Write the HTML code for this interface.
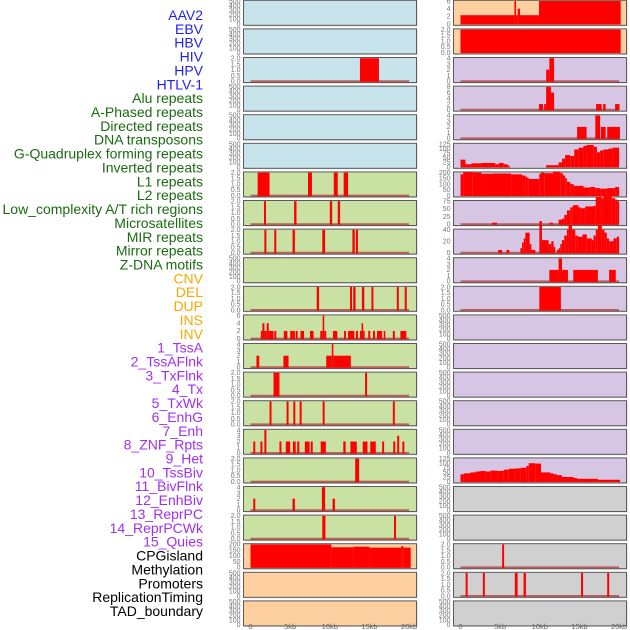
<!DOCTYPE html>
<html><head><meta charset="utf-8"><style>
html,body{margin:0;padding:0;background:#fff;}
svg{display:block;font-family:"Liberation Sans",sans-serif;}
</style></head><body>
<svg id="chart" width="630" height="630" viewBox="0 0 630 630" xmlns="http://www.w3.org/2000/svg"></svg>
<script>
const NS="http://www.w3.org/2000/svg";
const labels=["AAV2","EBV","HBV","HIV","HPV","HTLV-1","Alu repeats","A-Phased repeats","Directed repeats","DNA transposons","G-Quadruplex forming repeats","Inverted repeats","L1 repeats","L2 repeats","Low_complexity A/T rich regions","Microsatellites","MIR repeats","Mirror repeats","Z-DNA motifs","CNV","DEL","DUP","INS","INV","1_TssA","2_TssAFlnk","3_TxFlnk","4_Tx","5_TxWk","6_EnhG","7_Enh","8_ZNF_Rpts","9_Het","10_TssBiv","11_BivFlnk","12_EnhBiv","13_ReprPC","14_ReprPCWk","15_Quies","CPGisland","Methylation","Promoters","ReplicationTiming","TAD_boundary"];
const labelGroups=["v","v","v","v","v","v","r","r","r","r","r","r","r","r","r","r","r","r","r","s","s","s","s","s","h","h","h","h","h","h","h","h","h","h","h","h","h","h","h","o","o","o","o","o"];
const xTicks=[0,5,10,15,20];
const xTickLabels=["0","5kb","10kb","15kb","20kb"];
// each panel: bg, yMax, ticks, baseline, segments [startKb,endKb,value]
const leftBg=["b","b","b","b","b","b","g","g","g","g","g","g","g","g","g","g","g","g","g","o","o","o"];
const rightBg=["o","o","p","p","p","p","p","p","p","p","p","p","p","p","p","p","p","x","x","x","x","x"];
const leftMax=[500,500,2,500,500,500,2,2,2,500,2,6,4,2,2,4,2,4,2,200,500,500];
const rightMax=[6,2,4,8,4,125,200,75,40,4,2,500,500,500,500,500,125,500,500,2,2,500];
const leftBase=[0,0,1,0,0,0,1,1,1,0,1,1,1,1,1,1,1,1,1,0,0,0];
const rightBase=[0,0,1,1,1,0,0,1,1,1,1,0,0,0,0,0,0,0,0,1,1,0];
const leftSeg=[
[],[],[[13.8,16.2,2]],[],[],[],
[[0.9,2.4,2],[7.25,7.75,2],[10.5,11.0,2],[11.75,12.3,2]],
[[1.7,1.95,2],[5.5,5.8,2],[10.0,10.3,2],[11.0,11.3,2]],
[[1.75,2.0,2],[3.0,3.25,2],[5.3,5.6,2],[9.05,9.4,2],[12.85,13.15,2],[13.3,13.55,2]],
[],
[[8.35,8.65,2],[12.55,12.8,2],[12.95,13.25,2],[14.05,14.35,2],[15.25,15.5,2],[18.45,18.7,2],[19.45,19.7,2]],
[[1.3,1.5,2],[1.5,1.75,4],[1.75,2.05,2],[2.05,2.3,4],[2.3,2.9,2],[3.0,3.25,2],[4.2,4.65,2],[5.0,5.35,2],[5.35,5.6,2],[5.7,5.95,2],[6.3,6.75,2],[7.5,7.95,2],[8.8,9.1,2],[9.1,9.3,6],[9.3,9.55,2],[10.4,10.95,2],[11.8,12.05,2],[12.3,13.1,2],[13.3,13.55,2],[13.8,14.0,2],[14.0,14.2,4],[14.2,14.4,2],[14.85,15.1,2],[15.45,15.7,2],[15.95,16.6,2],[16.8,17.0,2],[17.95,18.2,2],[18.9,19.65,2]],
[[0.75,1.1,2],[4.15,4.8,2],[9.55,10.25,2],[10.25,10.45,4],[10.45,12.65,2]],
[[2.9,3.65,2],[14.45,14.7,2]],
[[2.4,2.65,2],[4.55,4.8,2],[5.4,5.65,2],[6.2,6.45,2],[9.1,9.35,2],[17.95,18.2,2]],
[[0.35,0.6,2],[1.25,1.5,2],[1.75,2.0,4],[3.65,3.9,2],[4.45,5.0,2],[5.35,5.7,2],[5.9,6.15,2],[6.85,7.45,2],[7.6,7.85,2],[8.85,9.5,2],[11.7,12.0,2],[12.6,13.4,2],[14.15,14.75,2],[15.1,15.8,2],[16.6,16.85,2],[18.0,18.25,2],[18.5,18.75,3],[19.15,19.4,2]],
[[13.2,13.7,2]],
[[0.35,0.6,2],[5.3,5.6,2],[9.0,9.4,4],[10.35,10.65,2]],
[[9.05,9.45,2],[18.1,18.35,2]],
[[0,10.2,200],[10.2,13.0,175],[13.0,15.0,180],[15.0,19.0,172],[19.0,19.25,185],[19.25,20.2,172]],
[],[]
];
const rightSeg=[
[[0,6.8,2.3],[6.8,7.0,6],[7.0,7.2,2.3],[7.2,7.5,4],[7.5,9.9,2.3],[9.9,20.2,6]],
[[0,20.2,2]],
[[10.8,11.2,2],[11.2,11.8,4]],
[[9.9,10.4,2],[10.55,10.8,2],[10.8,11.4,8],[11.4,11.8,6],[17.1,17.8,2],[18.0,18.3,2],[19.5,20.05,2]],
[[14.7,15.9,2],[17.0,17.6,4],[17.7,18.3,2],[18.5,20.1,2]],
[[0,0.63,40],[0.63,1.38,15],[1.38,2.64,20],[2.64,4.4,22],[4.4,4.82,15],[4.82,5.45,22],[5.45,5.95,15],[5.95,6.2,8],[10.8,12.37,10],[12.37,12.8,25],[12.8,13.2,45],[13.2,13.84,65],[13.84,14.34,60],[14.34,14.9,95],[14.9,15.5,105],[15.5,15.9,115],[15.9,16.8,120],[16.8,17.2,110],[17.2,17.6,80],[17.6,18.0,90],[18.0,18.66,95],[18.66,19.16,100],[19.16,20.0,105]],
[[0,0.34,185],[0.34,1.55,205],[1.55,2.64,200],[2.64,4.1,190],[4.1,6.38,192],[6.38,7.76,185],[7.76,8.18,175],[8.18,8.39,165],[8.39,8.6,155],[8.6,9.94,145],[9.94,10.15,190],[10.15,10.57,200],[10.57,11.66,195],[11.66,12.58,210],[12.58,12.92,195],[12.92,13.2,175],[13.2,13.42,150],[13.42,13.84,120],[13.84,14.26,100],[14.26,15.51,85],[15.51,16.35,70],[16.35,16.98,75],[16.98,17.61,65],[17.61,18.45,60],[18.45,19.5,65],[19.5,20.0,75]],
[[4.0,4.6,5],[11.2,11.65,5],[12.37,12.8,15],[12.8,13.08,18],[13.08,13.42,30],[13.42,13.84,45],[13.84,14.17,55],[14.17,14.88,62],[14.88,15.18,55],[15.18,15.72,52],[15.72,16.77,58],[16.77,17.06,60],[17.06,17.82,90],[17.82,18.03,85],[18.03,18.66,95],[18.66,19.08,92],[19.08,19.5,85],[19.5,19.79,80],[19.79,20.0,75]],
[[4.75,5.25,5],[5.8,6.15,5],[7.55,7.76,8],[7.76,7.97,18],[7.97,8.18,25],[8.18,8.72,35],[8.72,8.94,15],[8.94,9.43,5],[9.94,10.27,55],[10.27,11.11,22],[11.11,11.45,15],[11.45,11.74,20],[11.74,11.95,10],[12.16,12.37,5],[12.37,12.58,8],[12.58,12.79,15],[12.79,13.08,22],[13.08,13.42,30],[13.42,13.63,40],[13.63,14.05,48],[14.05,14.47,40],[14.47,14.8,30],[14.8,15.39,28],[15.39,15.93,32],[15.93,16.56,25],[16.56,16.77,22],[16.77,17.06,30],[17.06,17.32,40],[17.32,17.82,48],[17.82,18.15,40],[18.15,18.45,35],[18.45,18.74,25],[18.74,19.29,20],[19.29,19.71,25],[19.71,20.0,28]],
[[11.2,12.37,2],[12.37,12.8,4],[12.8,13.55,2],[14.22,17.32,2],[18.74,19.58,2]],
[[9.94,12.66,2]],
[],[],[],[],[],
[[0,0.42,40],[0.42,1.26,45],[1.26,1.89,50],[1.89,2.52,55],[2.52,3.14,58],[3.14,3.77,55],[3.77,4.61,60],[4.61,5.45,58],[5.45,6.08,65],[6.08,6.92,70],[6.92,7.55,72],[7.55,8.3,75],[8.3,8.6,85],[8.6,9.43,100],[9.43,10.15,98],[10.15,11.32,50],[11.32,11.74,45],[11.74,12.16,40],[12.16,12.79,35],[12.79,14.26,25],[14.26,14.68,20],[14.68,17.32,15],[17.32,20.13,10]],
[],[],
[[5.25,5.5,2]],
[[0.65,0.9,2],[2.82,3.07,2],[6.85,7.2,2],[7.95,8.25,2],[15.2,15.45,2],[18.5,18.75,2]],
[]
];
const tickSets={500:[0,100,200,300,400,500],2:[0,0.5,1,1.5,2],6:[0,2,4,6],4:[0,1,2,3,4],8:[0,2,4,6,8],200:[0,50,100,150,200],125:[0,25,50,75,100,125],75:[0,25,50,75],40:[0,20,40]};
const bgColor={b:"#c7e3eb",g:"#c9e1a2",o:"#ffd09f",p:"#d7c6e3",x:"#d0d0d0"};
const groupColor={v:"#1f1fef",r:"#1a6b10",s:"#ffa500",h:"#a030f0",o:"#000"};
const svg=document.getElementById("chart");
function el(tag,attrs,parent){const e=document.createElementNS(NS,tag);for(const k in attrs)e.setAttribute(k,attrs[k]);(parent||svg).appendChild(e);return e;}
const PH=25, STEP=28.6, TOP0=0.3;
const cols=[{x0:243.5,x1:416.5,kb0:250.5,bg:leftBg,max:leftMax,base:leftBase,seg:leftSeg,name:"left"},
            {x0:453.5,x1:626.5,kb0:460.5,bg:rightBg,max:rightMax,base:rightBase,seg:rightSeg,name:"right"}];
const PXKB=7.93;
// labels
labels.forEach((t,i)=>{
  const tx=el("text",{x:203,y:20+i*13.86,"text-anchor":"end","font-size":"14",fill:groupColor[labelGroups[i]]});
  tx.textContent=t;
  
  
});
cols.forEach(c=>{
  const xs=kb=>c.kb0+kb*PXKB;
  for(let i=0;i<22;i++){
    const top=TOP0+i*STEP, bot=top+PH;
    const g=el("g",{});
    
    
    el("rect",{x:c.x0+1,y:top+1,width:c.x1-c.x0,height:PH,fill:"#aaa",opacity:0.5},g);
    el("rect",{x:c.x0,y:top,width:c.x1-c.x0,height:PH,fill:bgColor[c.bg[i]],stroke:"#5a5a5a","stroke-width":1},g);
    const m=c.max[i];
    const ys=v=>bot-1.3-v/m*(PH-2);
    // ticks
    (tickSets[m]||[]).forEach(tv=>{
      const tt=el("text",{x:c.x0-3,y:ys(tv)+2.3,"text-anchor":"end","font-size":"7",fill:"#777"},g);
      tt.textContent=(m===2)?tv.toFixed(1):String(tv);
      
      
    });
    if(c.base[i]){
      const ln=el("line",{x1:xs(0),x2:xs(20),y1:ys(0),y2:ys(0),stroke:"#b03a3a","stroke-width":2,opacity:0.75},g);
      
      
    }
    c.seg[i].forEach(s=>{
      const r=el("rect",{x:xs(s[0]),y:ys(s[2]),width:Math.max(1.5,xs(s[1])-xs(s[0])),height:ys(0)-ys(s[2])+0.5,fill:"#ff0000"},g);
      
      
    });
  }
  xTicks.forEach((v,j)=>{
    const t=el("text",{x:xs(v),y:629,"text-anchor":"middle","font-size":"7.5",fill:"#666"});
    t.textContent=xTickLabels[j];
    
    
  });
});
</script>
</body></html>
